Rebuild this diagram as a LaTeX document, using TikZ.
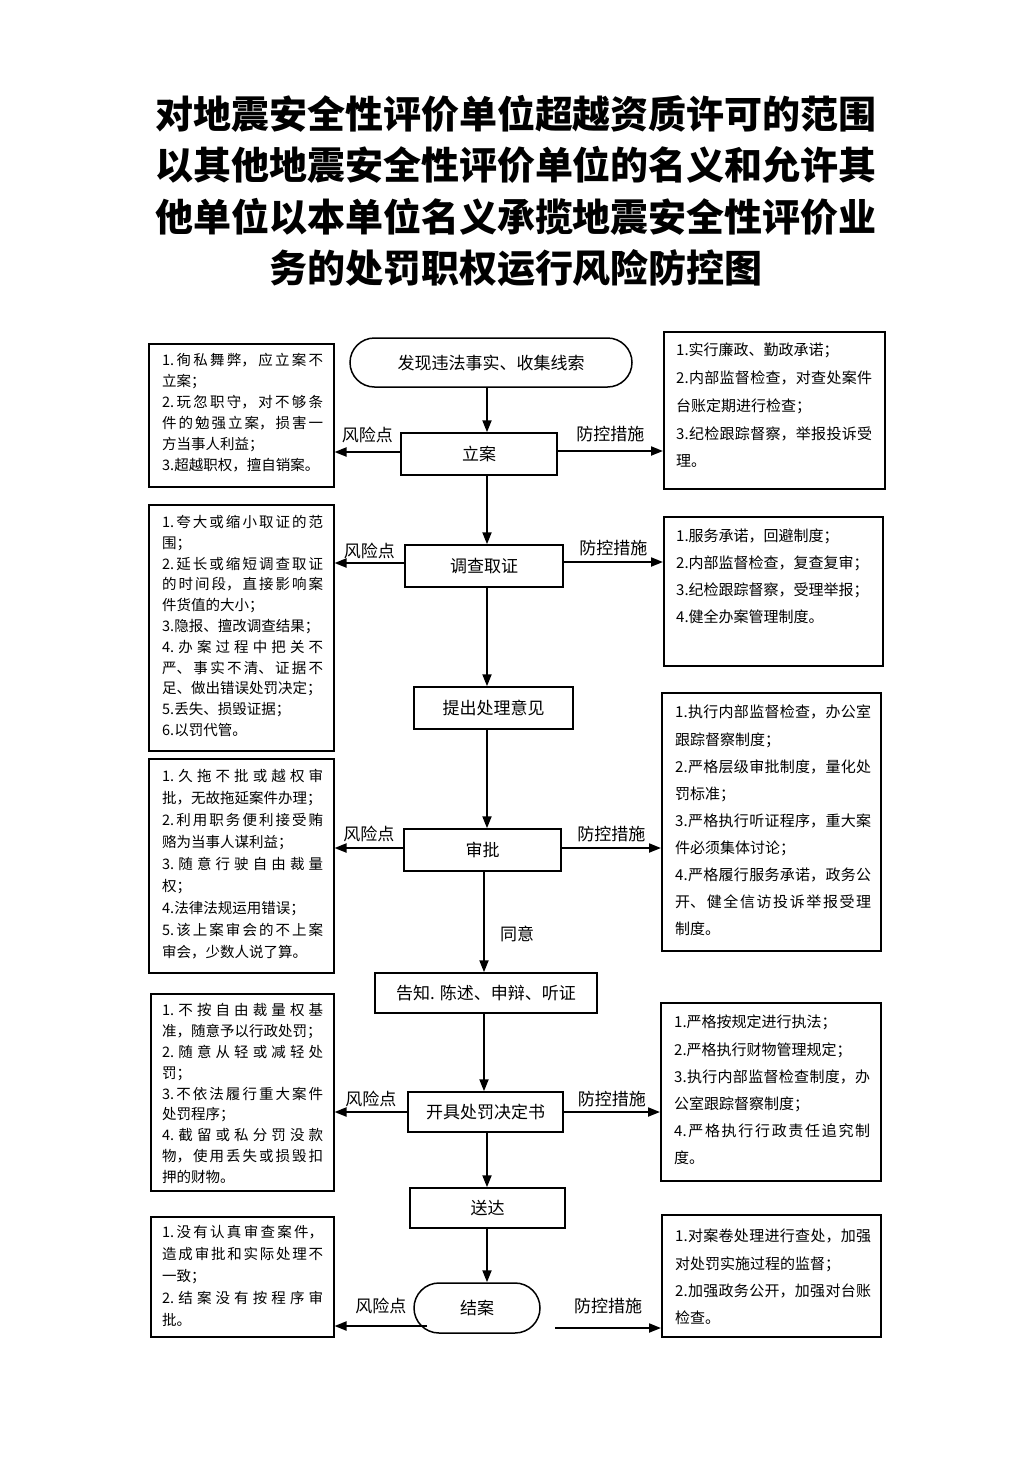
\documentclass[tikz,border=0pt]{standalone}
\usepackage{fontspec}
\setmainfont{Noto Sans CJK SC}
\usetikzlibrary{arrows.meta,shapes.misc}
\XeTeXlinebreaklocale "zh"
\XeTeXlinebreakskip=0pt plus 3pt
\tikzset{
  frame/.style={draw, line width=1.5pt, inner sep=0pt, anchor=north west},
  ltext/.style={anchor=north west, inner sep=0pt, text width=161pt, align=justify, font=\fontsize{14.5}{21}\selectfont},
  rtext/.style={anchor=north west, inner sep=0pt, text width=196pt, align=justify, font=\fontsize{15}{27.2}\selectfont},
  stepbox/.style={draw, line width=1.5pt, inner sep=0pt, font=\fontsize{17}{20}\selectfont},
  roundbox/.style={draw, line width=1.5pt, rounded rectangle, inner sep=0pt, font=\fontsize{17}{20}\selectfont},
  arr/.style={line width=2pt, -{Triangle[length=12pt,width=9pt]}},
  lbl/.style={font=\fontsize{17}{20}\selectfont, inner sep=1pt}
}
\begin{document}
\begin{tikzpicture}[x=1pt,y=-1pt]
\useasboundingbox (0,0) rectangle (1033,1460);
% title
\node[font=\bfseries\fontsize{38}{51.2}\selectfont, align=center] (title) at (516,191)
 {对地震安全性评价单位超越资质许可的范围\\以其他地震安全性评价单位的名义和允许其\\他单位以本单位名义承揽地震安全性评价业\\务的处罚职权运行风险防控图};

% main flow
\node[roundbox, minimum width=282pt, minimum height=49pt] (start) at (491,362.5) {发现违法事实、收集线索};
\node[stepbox, minimum width=156pt, minimum height=42pt] (lian) at (479,454) {立案};
\node[stepbox, minimum width=158pt, minimum height=42pt] (dc) at (484,566) {调查取证};
\node[stepbox, minimum width=159pt, minimum height=42pt] (tc) at (493.5,708) {提出处理意见};
\node[stepbox, minimum width=157pt, minimum height=42pt] (sp) at (482.5,850) {审批};
\node[stepbox, minimum width=222pt, minimum height=40pt] (gz) at (486,993) {告知. 陈述、申辩、听证};
\node[stepbox, minimum width=155pt, minimum height=40pt] (kj) at (485.5,1112) {开具处罚决定书};
\node[stepbox, minimum width=155pt, minimum height=40pt] (sd) at (487.5,1208) {送达};
\node[roundbox, minimum width=126pt, minimum height=50pt] (ja) at (477,1308) {结案};

% left risk boxes
\node[frame, minimum width=185pt, minimum height=143pt] (L1) at (148,343) {};
\node[ltext] (L1t) at (162,353) {1.徇私舞弊，应立案不\linebreak 立案；\newline 2.玩忽职守，对不够条\linebreak 件的勉强立案，损害一\linebreak 方当事人利益；\newline 3.超越职权，擅自销案。};

\node[frame, minimum width=185pt, minimum height=246pt] (L2) at (148,504) {};
\node[ltext, font=\fontsize{14.5}{20.8}\selectfont] (L2t) at (162,515) {1.夸大或缩小取证的范\linebreak 围；\newline 2.延长或缩短调查取证\linebreak 的时间段，直接影响案\linebreak 件货值的大小；\newline 3.隐报、擅改调查结果；\newline 4.办案过程中把关不\linebreak 严、事实不清、证据不\linebreak 足、做出错误处罚决定；\newline 5.丢失、损毁证据；\newline 6.以罚代管。};

\node[frame, minimum width=185pt, minimum height=214pt] (L3) at (148,758) {};
\node[ltext, font=\fontsize{14.5}{22}\selectfont] (L3t) at (162,769) {1.久拖不批或越权审\linebreak 批，无故拖延案件办理；\newline 2.利用职务便利接受贿\linebreak 赂为当事人谋利益；\newline 3.随意行驶自由裁量\linebreak 权；\newline 4.法律法规运用错误；\newline 5.该上案审会的不上案\linebreak 审会，少数人说了算。};

\node[frame, minimum width=183pt, minimum height=197pt] (L4) at (150,993) {};
\node[ltext, font=\fontsize{14.5}{20.9}\selectfont] (L4t) at (162,1003) {1.不按自由裁量权基\linebreak 准，随意予以行政处罚；\newline 2.随意从轻或减轻处\linebreak 罚；\newline 3.不依法履行重大案件\linebreak 处罚程序；\newline 4.截留或私分罚没款\linebreak 物，使用丢失或损毁扣\linebreak 押的财物。};

\node[frame, minimum width=183pt, minimum height=120pt] (L5) at (150,1216) {};
\node[ltext, font=\fontsize{14.5}{22}\selectfont] (L5t) at (162,1225) {1.没有认真审查案件，\linebreak 造成审批和实际处理不\linebreak 一致；\newline 2.结案没有按程序审\linebreak 批。};

% right control boxes
\node[frame, minimum width=221pt, minimum height=157pt] (R1) at (663,331) {};
\node[rtext, font=\fontsize{15}{27.7}\selectfont] (R1t) at (676,343) {1.实行廉政、勤政承诺；\newline 2.内部监督检查，对查处案件\linebreak 台账定期进行检查；\newline 3.纪检跟踪督察，举报投诉受\linebreak 理。};

\node[frame, minimum width=219pt, minimum height=149pt] (R2) at (663,516) {};
\node[rtext, font=\fontsize{15}{27}\selectfont] (R2t) at (676,529) {1.服务承诺，回避制度；\newline 2.内部监督检查，复查复审；\newline 3.纪检跟踪督察，受理举报；\newline 4.健全办案管理制度。};

\node[frame, minimum width=219pt, minimum height=258pt] (R3) at (661,692) {};
\node[rtext, font=\fontsize{15}{27.1}\selectfont] (R3t) at (675,705) {1.执行内部监督检查，办公室\linebreak 跟踪督察制度；\newline 2.严格层级审批制度，量化处\linebreak 罚标准；\newline 3.严格执行听证程序，重大案\linebreak 件必须集体讨论；\newline 4.严格履行服务承诺，政务公\linebreak 开、健全信访投诉举报受理\linebreak 制度。};

\node[frame, minimum width=220pt, minimum height=178pt] (R4) at (660,1002) {};
\node[rtext] (R4t) at (674,1015) {1.严格按规定进行执法；\newline 2.严格执行财物管理规定；\newline 3.执行内部监督检查制度，办\linebreak 公室跟踪督察制度；\newline 4.严格执行行政责任追究制\linebreak 度。};

\node[frame, minimum width=219pt, minimum height=122pt] (R5) at (661,1214) {};
\node[rtext, font=\fontsize{15}{27.3}\selectfont] (R5t) at (675,1229) {1.对案卷处理进行查处，加强\linebreak 对处罚实施过程的监督；\newline 2.加强政务公开，加强对台账\linebreak 检查。};

% vertical flow arrows
\coordinate (ax) at (487,0);
\coordinate (bx) at (484,0);
\draw[arr] (ax |- start.south) -- (ax |- lian.north);
\draw[arr] (ax |- lian.south) -- (ax |- dc.north);
\draw[arr] (ax |- dc.south) -- (ax |- tc.north);
\draw[arr] (ax |- tc.south) -- (ax |- sp.north);
\draw[arr] (bx |- sp.south) -- (bx |- gz.north) node[lbl, pos=0.62, right=14pt] {同意};
\draw[arr] (bx |- gz.south) -- (bx |- kj.north);
\draw[arr] (ax |- kj.south) -- (ax |- sd.north);
\draw[arr] (ax |- sd.south) -- (ax |- ja.north);

% risk arrows
\draw[arr] ([yshift=2pt]lian.west) -- ([yshift=2pt]L1.east |- lian.west) node[lbl, midway, above=7pt] {风险点};
\draw[arr] ([yshift=3pt]dc.west) -- ([yshift=3pt]L2.east |- dc.west) node[lbl, midway, above=2pt] {风险点};
\draw[arr] ([yshift=2pt]sp.west) -- ([yshift=2pt]L3.east |- sp.west) node[lbl, midway, above=4pt] {风险点};
\draw[arr] (kj.west) -- (L4.east |- kj.west) node[lbl, midway, above=3pt] {风险点};
\coordinate (jaL) at (427,1326);
\draw[arr] (jaL) -- (L5.east |- jaL) node[lbl, midway, above=10pt] {风险点};

% control arrows
\draw[arr] ([yshift=3pt]lian.east) -- ([yshift=3pt]R1.west |- lian.east) node[lbl, midway, above=7pt] {防控措施};
\draw[arr] ([yshift=4pt]dc.east) -- ([yshift=4pt]R2.west |- dc.east) node[lbl, midway, above=4pt] {防控措施};
\draw[arr] ([yshift=2pt]sp.east) -- ([yshift=2pt]R3.west |- sp.east) node[lbl, midway, above=4pt] {防控措施};
\draw[arr] (kj.east) -- (R4.west |- kj.east) node[lbl, midway, above=3pt] {防控措施};
\coordinate (jaR) at (555,1328);
\draw[arr] (jaR) -- (R5.west |- jaR) node[lbl, midway, above=12pt] {防控措施};
\end{tikzpicture}
\end{document}
